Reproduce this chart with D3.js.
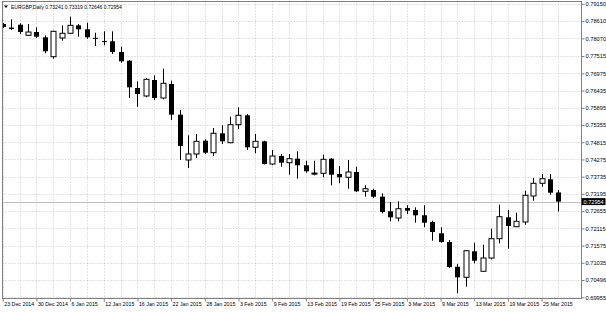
<!DOCTYPE html>
<html>
<head>
<meta charset="utf-8">
<script src="https://cdn.jsdelivr.net/npm/d3@7"></script>
<style>
body { margin: 0; background: #fff; }
svg { display: block; font-family: "Liberation Sans", Arial, sans-serif; }
</style>
</head>
<body>
<svg id="chart" width="606" height="312"></svg>
<script>
// Daily bars, EURGBP
var dates = ["2014-12-23","2014-12-24","2014-12-26","2014-12-29","2014-12-30","2014-12-31","2015-01-02","2015-01-05",
    "2015-01-06","2015-01-07","2015-01-08","2015-01-09","2015-01-12","2015-01-13","2015-01-14","2015-01-15",
    "2015-01-16","2015-01-19","2015-01-20","2015-01-21","2015-01-22","2015-01-23","2015-01-26","2015-01-27",
    "2015-01-28","2015-01-29","2015-01-30","2015-02-02","2015-02-03","2015-02-04","2015-02-05","2015-02-06",
    "2015-02-09","2015-02-10","2015-02-11","2015-02-12","2015-02-13","2015-02-16","2015-02-17","2015-02-18",
    "2015-02-19","2015-02-20","2015-02-23","2015-02-24","2015-02-25","2015-02-26","2015-02-27","2015-03-02",
    "2015-03-03","2015-03-04","2015-03-05","2015-03-06","2015-03-09","2015-03-10","2015-03-11","2015-03-12",
    "2015-03-13","2015-03-16","2015-03-17","2015-03-18","2015-03-19","2015-03-20","2015-03-23","2015-03-24",
    "2015-03-25","2015-03-26","2015-03-27"];
var openP = [0.78520,0.78410,0.78498,0.78166,0.78269,0.78103,0.77495,0.78081,0.78229,0.78479,0.78354,0.78088,
    0.77984,0.77978,0.77643,0.77370,0.76514,0.76264,0.76765,0.76201,0.76640,0.75678,0.74258,0.74446,
    0.74863,0.74487,0.75095,0.74800,0.75364,0.75659,0.74656,0.74844,0.74132,0.74383,0.74173,0.74299,
    0.74092,0.73835,0.73841,0.74299,0.73819,0.73716,0.73882,0.73277,0.73318,0.73108,0.72650,0.72440,
    0.72754,0.72691,0.72525,0.72315,0.71961,0.71688,0.70914,0.70582,0.71397,0.70770,0.71186,0.71791,
    0.72462,0.72167,0.72315,0.73130,0.73528,0.73653,0.73241];
var highP = [0.78551,0.78667,0.78542,0.78520,0.78417,0.78166,0.78310,0.78479,0.78749,0.78520,0.78561,0.78247,
    0.78291,0.78291,0.77809,0.77392,0.76724,0.76828,0.76912,0.77119,0.76743,0.75825,0.75032,0.75073,
    0.74907,0.75261,0.75345,0.75615,0.75909,0.75699,0.75073,0.74863,0.74571,0.74446,0.74446,0.74531,
    0.74236,0.74236,0.74424,0.74321,0.74070,0.74258,0.74048,0.73465,0.73358,0.73214,0.72942,0.72964,
    0.72838,0.72775,0.72838,0.72356,0.72149,0.71751,0.70998,0.71420,0.71666,0.71603,0.72105,0.72857,
    0.72691,0.72606,0.73296,0.73694,0.73819,0.73819,0.73319];
var lowP = [0.78395,0.78332,0.78207,0.78144,0.78081,0.77602,0.77433,0.77997,0.78207,0.78122,0.78059,0.77831,
    0.77853,0.77580,0.77307,0.76201,0.75928,0.76223,0.76138,0.76160,0.75511,0.74258,0.74007,0.74321,
    0.74446,0.74383,0.74759,0.74781,0.75220,0.74571,0.74468,0.74117,0.74092,0.74048,0.73797,0.73672,
    0.73860,0.73778,0.73716,0.73465,0.73528,0.73358,0.73255,0.73108,0.73067,0.72587,0.72337,0.72337,
    0.72565,0.72293,0.72149,0.71729,0.71666,0.70873,0.70080,0.70287,0.71020,0.70765,0.71146,0.71647,
    0.71478,0.72160,0.72230,0.72982,0.73421,0.73170,0.72646];
var closeP = [0.78426,0.78363,0.78269,0.78269,0.78122,0.77665,0.78291,0.78229,0.78479,0.78354,0.78103,0.78075,
    0.77972,0.77643,0.77351,0.76536,0.76326,0.76787,0.76201,0.76662,0.75678,0.74697,0.74446,0.74844,
    0.74487,0.75095,0.74844,0.75364,0.75659,0.74656,0.74844,0.74132,0.74383,0.74173,0.74299,0.74092,
    0.73904,0.73847,0.74280,0.73797,0.73716,0.73882,0.73277,0.73358,0.73108,0.72628,0.72462,0.72731,
    0.72669,0.72525,0.72293,0.72001,0.71688,0.70901,0.70582,0.71415,0.71102,0.71186,0.71791,0.72481,
    0.72189,0.72337,0.73152,0.73528,0.73672,0.73233,0.72954];

var xLabels = ["2014-12-23","2014-12-30","2015-01-06","2015-01-12","2015-01-16","2015-01-22","2015-01-28",
    "2015-02-03","2015-02-09","2015-02-13","2015-02-19","2015-02-25","2015-03-03","2015-03-09","2015-03-13",
    "2015-03-19","2015-03-25"];
var yTicks = [0.79150,0.78610,0.78070,0.77515,0.76975,0.76435,0.75895,0.75355,0.74815,0.74275,0.73735,
    0.73195,0.72655,0.72115,0.71575,0.71035,0.70496,0.69955];
var title = "EURGBP,Daily";

var plot = { left: 2.5, top: 1.5, right: 581.5, bottom: 298.5 };
var bodyW = 5;

var parse = d3.timeParse("%Y-%m-%d");
var fmt = d3.timeFormat("%-d %b %Y");
var price = d3.format(".5f");

var x = d3.scalePoint().domain(dates).range([2.7, 558.4]);
var y = d3.scaleLinear().domain([0.69955, 0.79150]).range([297.3, 3.9]);

var svg = d3.select("#chart");

svg.append("defs").append("clipPath").attr("id", "plotclip")
    .append("rect")
    .attr("x", plot.left).attr("y", plot.top)
    .attr("width", plot.right - plot.left).attr("height", plot.bottom - plot.top);

// Grid
var grid = svg.append("g").attr("stroke", "#c6c6c6").attr("stroke-dasharray", "1,2");
grid.selectAll("line.h").data(yTicks).enter().append("line")
    .attr("class", "h")
    .attr("x1", plot.left).attr("x2", plot.right)
    .attr("y1", function(d) { return Math.round(y(d)) + 0.5; })
    .attr("y2", function(d) { return Math.round(y(d)) + 0.5; });
grid.selectAll("line.v").data(dates.filter(function(d, i) { return i % 2 == 0; })).enter().append("line")
    .attr("class", "v")
    .attr("y1", plot.top).attr("y2", plot.bottom)
    .attr("x1", function(d) { return Math.round(x(d)) + 0.5; })
    .attr("x2", function(d) { return Math.round(x(d)) + 0.5; });

// Current price line
var last = dates.length - 1;
svg.append("line")
    .attr("x1", plot.left).attr("x2", plot.right)
    .attr("y1", Math.round(y(closeP[last])) + 0.5).attr("y2", Math.round(y(closeP[last])) + 0.5)
    .attr("stroke", "#c0c0c0");

// Candles
var bars = dates.map(function(d, i) {
    return { date: d, o: openP[i], h: highP[i], l: lowP[i], c: closeP[i] };
});
var cx = function(d) { return Math.round(x(d.date)) + 0.5; };

var candles = svg.append("g").attr("clip-path", "url(#plotclip)");
candles.selectAll("line.wick").data(bars).enter().append("line")
    .attr("class", "wick")
    .attr("x1", cx).attr("x2", cx)
    .attr("y1", function(d) { return y(d.h); })
    .attr("y2", function(d) { return y(d.l); })
    .attr("stroke", "#000");
candles.selectAll("rect.body").data(bars).enter().append("rect")
    .attr("class", "body")
    .attr("x", function(d) { return cx(d) - bodyW / 2; })
    .attr("width", bodyW)
    .attr("y", function(d) { return y(Math.max(d.o, d.c)); })
    .attr("height", function(d) { return Math.max(1, Math.abs(y(d.o) - y(d.c))); })
    .attr("fill", function(d) { return d.c < d.o ? "#000" : "#fff"; })
    .attr("stroke", "#000")
    .attr("stroke-width", function(d) { return d.c < d.o ? 0 : 1; });

// Frame
svg.append("rect")
    .attr("x", plot.left).attr("y", plot.top)
    .attr("width", plot.right - plot.left).attr("height", plot.bottom - plot.top)
    .attr("fill", "none").attr("stroke", "#808080");

// Y axis
var yAxis = d3.axisRight(y).tickValues(yTicks).tickFormat(price).tickSize(3).tickPadding(1);
svg.append("g")
    .attr("transform", "translate(" + plot.right + ",0)")
    .call(yAxis)
    .call(function(g) { g.select(".domain").remove(); })
    .call(function(g) {
        g.selectAll("line").attr("stroke", "#808080");
        g.selectAll("text").attr("font-size", "5.7px").attr("fill", "#000");
    })
    .attr("font-family", null);

// X axis
var xAxis = d3.axisBottom(x).tickValues(xLabels)
    .tickFormat(function(d) { return fmt(parse(d)); })
    .tickSize(3).tickPadding(1);
svg.append("g")
    .attr("transform", "translate(0," + plot.bottom + ")")
    .call(xAxis)
    .call(function(g) { g.select(".domain").remove(); })
    .call(function(g) {
        g.selectAll("line").attr("stroke", "#808080");
        g.selectAll("text").attr("font-size", "5.3px").attr("fill", "#000")
            .attr("text-anchor", "start").attr("x", 1);
    })
    .attr("font-family", null);

// Price tag
var tagY = y(closeP[last]);
svg.append("rect")
    .attr("x", plot.right).attr("y", tagY - 3.5)
    .attr("width", 24).attr("height", 7)
    .attr("fill", "#000");
svg.append("text")
    .attr("x", plot.right + 2).attr("y", tagY)
    .attr("dy", "0.35em")
    .attr("font-size", "5.6px").attr("fill", "#fff")
    .text(price(closeP[last]));

// Header
svg.append("path").attr("d", "M4,5.5 L8,5.5 L6,8 Z").attr("fill", "#000");
svg.append("text")
    .attr("x", 11).attr("y", 9)
    .attr("font-size", "5px").attr("fill", "#000")
    .text(title + " " + [openP[last], highP[last], lowP[last], closeP[last]].map(price).join(" "));
</script>
</body>
</html>
